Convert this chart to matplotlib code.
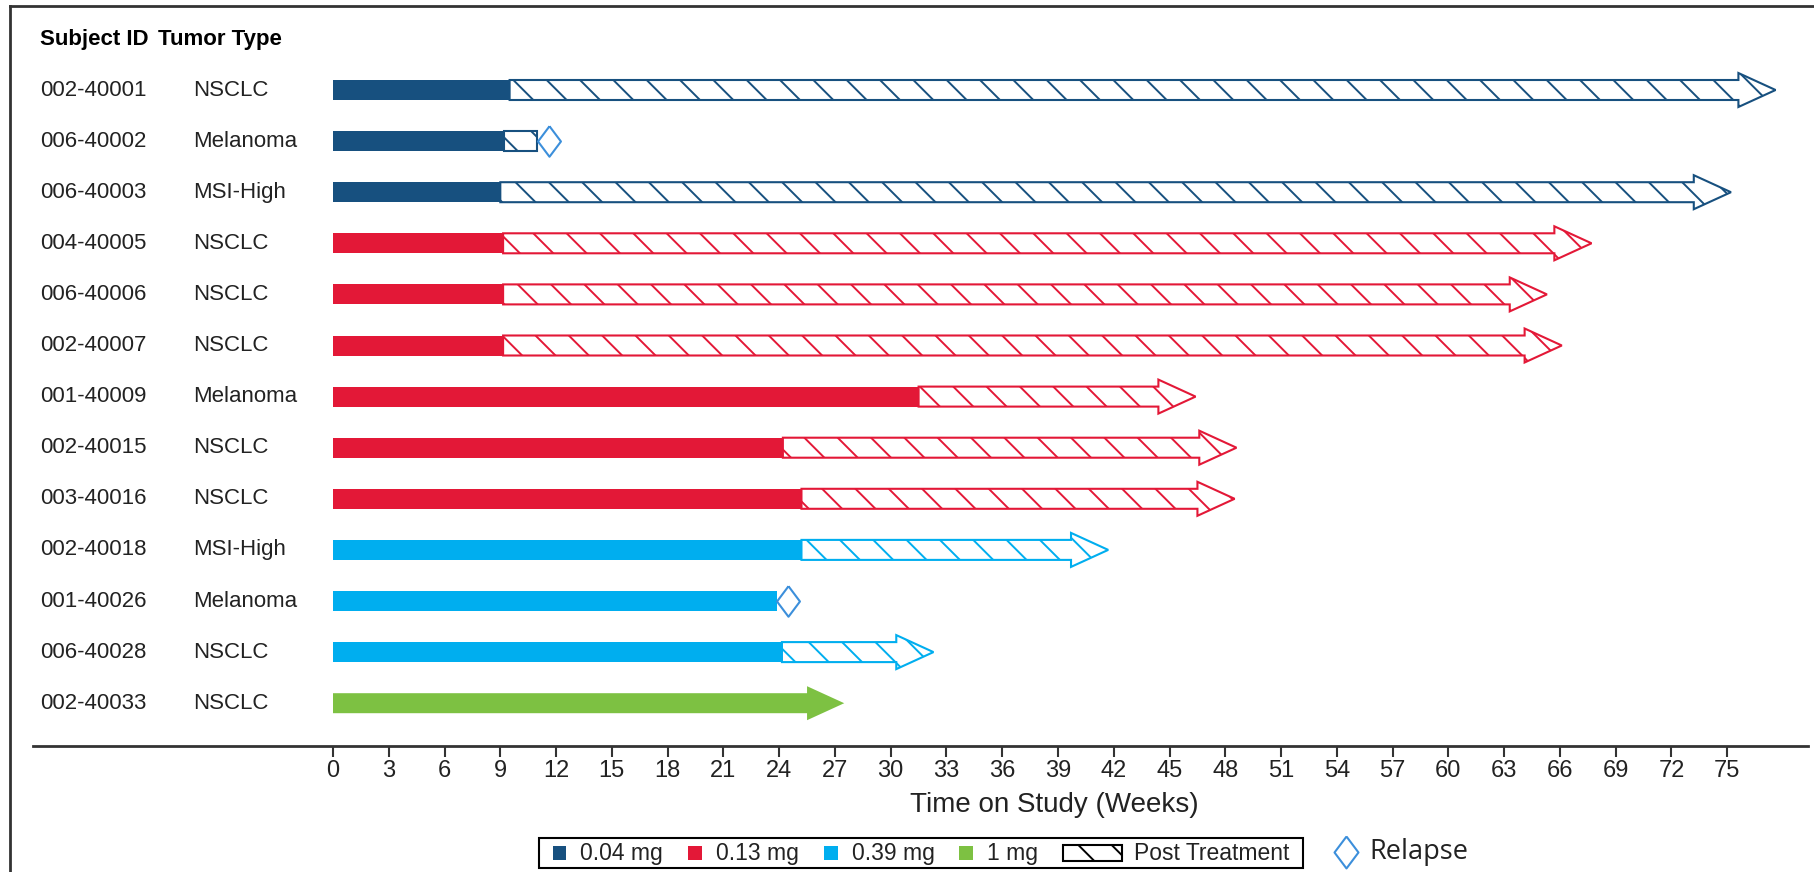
import numpy as np
import matplotlib.pyplot as plt
import matplotlib.transforms as mtransforms
from matplotlib.patches import FancyArrow, Rectangle
from matplotlib.lines import Line2D
from matplotlib.offsetbox import AnchoredOffsetbox, DrawingArea, HPacker, TextArea

plt.rcParams['font.family'] = ['Liberation Sans', 'DejaVu Sans']
plt.rcParams['hatch.linewidth'] = 1.4

# data (weeks)
subject_ids = ['002-40001', '006-40002', '006-40003', '004-40005', '006-40006',
               '002-40007', '001-40009', '002-40015', '003-40016', '002-40018',
               '001-40026', '006-40028', '002-40033']
tumor_types = ['NSCLC', 'Melanoma', 'MSI-High', 'NSCLC', 'NSCLC', 'NSCLC',
               'Melanoma', 'NSCLC', 'NSCLC', 'MSI-High', 'Melanoma', 'NSCLC', 'NSCLC']
dose = ['0.04 mg', '0.04 mg', '0.04 mg', '0.13 mg', '0.13 mg', '0.13 mg',
        '0.13 mg', '0.13 mg', '0.13 mg', '0.39 mg', '0.39 mg', '0.39 mg', '1 mg']
treat_end = [9.5, 9.2, 9.0, 9.15, 9.15, 9.15, 31.5, 24.2, 25.2, 25.2, 23.9, 24.15, 27.5]
post_end = [77.6, 11.0, 75.2, 67.7, 65.3, 66.1, 46.4, 48.6, 48.5, 41.7, None, 32.3, None]
ongoing = [True, False, True, True, True, True, True, True, True, True, False, True, True]
relapse = [None, 11.6, None, None, None, None, None, None, None, None, 24.5, None, None]

dose_labels = ['0.04 mg', '0.13 mg', '0.39 mg', '1 mg']
dose_colors = {'0.04 mg': '#17507F', '0.13 mg': '#E31837',
               '0.39 mg': '#00AEEF', '1 mg': '#7DC142'}
relapse_color = '#3C8FDB'
xticks = np.arange(0, 76, 3)

W, H = 1814, 872
fig = plt.figure(figsize=(W / 100, H / 100), dpi=100)

# layout in pixels
ax_left, ax_right, ax_top, ax_bottom = 33, 1808, 10, 746
x0_px, px_per_week = 333, 18.59
row0_px, row_px = 90, 51.1
ax = fig.add_axes([ax_left / W, 1 - ax_bottom / H, (ax_right - ax_left) / W, (ax_bottom - ax_top) / H])
ax.set_xlim((ax_left - x0_px) / px_per_week, (ax_right - x0_px) / px_per_week)
ax.set_ylim((ax_bottom - row0_px) / row_px, (ax_top - row0_px) / row_px)

bar_h = 20 / row_px
head_w = 34 / row_px
head_l = 2.0
diamond = [(0, 1), (0.75, 0), (0, -1), (-0.75, 0), (0, 1)]

for i in range(len(subject_ids)):
    c = dose_colors[dose[i]]
    if post_end[i] is None and ongoing[i]:
        # solid arrow, still on treatment
        ax.add_patch(FancyArrow(0, i, treat_end[i], 0, width=bar_h, head_width=head_w,
                                head_length=head_l, length_includes_head=True,
                                facecolor=c, edgecolor='none', zorder=2))
    else:
        ax.barh(i, treat_end[i], left=0, height=bar_h, color=c, zorder=2)
    if post_end[i] is not None:
        if ongoing[i]:
            ax.add_patch(FancyArrow(treat_end[i], i, post_end[i] - treat_end[i], 0, width=bar_h,
                                    head_width=head_w, head_length=head_l, length_includes_head=True,
                                    facecolor='white', edgecolor=c, hatch='\\', lw=1.5, zorder=2))
        else:
            ax.add_patch(Rectangle((treat_end[i], i - bar_h / 2), post_end[i] - treat_end[i], bar_h,
                                   facecolor='white', edgecolor=c, hatch='\\', lw=1.5, zorder=2))
    if relapse[i] is not None:
        ax.plot(relapse[i], i, marker=diamond, markersize=22, mfc='white',
                mec=relapse_color, mew=1.5, zorder=3)

# row labels
trans = mtransforms.blended_transform_factory(fig.transFigure, ax.transData)
for i in range(len(subject_ids)):
    ax.text(40 / W, i, subject_ids[i], transform=trans, fontsize=16, va='center', color='#222222')
    ax.text(193 / W, i, tumor_types[i], transform=trans, fontsize=16, va='center', color='#222222')
hdr_y = (39 - row0_px) / row_px
ax.text(40 / W, hdr_y, 'Subject ID', transform=trans, fontsize=16, fontweight='bold', va='center')
ax.text(158 / W, hdr_y, 'Tumor Type', transform=trans, fontsize=16, fontweight='bold', va='center')

# axis formatting
for s in ['top', 'left', 'right']:
    ax.spines[s].set_visible(False)
ax.spines['bottom'].set_linewidth(2)
ax.spines['bottom'].set_color('#333333')
ax.set_yticks([])
ax.set_xticks(xticks)
ax.tick_params(axis='x', labelsize=17, length=8, width=1.5, color='#333333', labelcolor='#222222', pad=2)
ax.set_xlabel('Time on Study (Weeks)', fontsize=20, color='#222222')
ax.xaxis.set_label_coords((1054 - ax_left) / (ax_right - ax_left), -(792 - ax_bottom) / (ax_bottom - ax_top))
ax.xaxis.label.set_va('top')

# outer frame (left and top edges)
fig.add_artist(Line2D([10 / W, 10 / W], [0, 1 - 6 / H], transform=fig.transFigure, color='#333333', lw=2))
fig.add_artist(Line2D([10 / W, 1], [1 - 6 / H, 1 - 6 / H], transform=fig.transFigure, color='#333333', lw=2))


# legend built from offset boxes
def swatch(w, h, **kw):
    da = DrawingArea(w, h, 0, 0)
    da.add_artist(Rectangle((0, 0), w, h, **kw))
    return da


items = []
for lab in dose_labels:
    items.append(HPacker(children=[swatch(10, 10, facecolor=dose_colors[lab], edgecolor='none'),
                                   TextArea(lab, textprops=dict(fontsize=16.5, color='#222222'))],
                         sep=10, align='center', pad=0))
items.append(HPacker(children=[swatch(42, 11.5, facecolor='white', edgecolor='black', hatch='\\', lw=1.5),
                               TextArea('Post Treatment', textprops=dict(fontsize=16.5, color='#222222'))],
                     sep=9, align='center', pad=0))
row = HPacker(children=items, sep=18, align='center', pad=0)
row = HPacker(children=[DrawingArea(7, 1), row, DrawingArea(7, 1)], sep=0, align='center', pad=0)
box = AnchoredOffsetbox(loc='center', child=row, pad=0.25, borderpad=0, frameon=True,
                        bbox_to_anchor=(921 / W, 1 - 853 / H), bbox_transform=fig.transFigure)
box.patch.set_edgecolor('black')
box.patch.set_linewidth(1.5)
box.patch.set_boxstyle('square', pad=0)
fig.add_artist(box)

da = DrawingArea(20, 24, 0, 0)
da.add_artist(Line2D([10], [12], marker=diamond, markersize=23, mfc='white', mec=relapse_color, mew=1.5))
rel = HPacker(children=[da, TextArea('Relapse', textprops=dict(fontsize=19.5, family='Open Sans', color='#222222'))],
              sep=7, align='center', pad=0)
rel_box = AnchoredOffsetbox(loc='center left', child=rel, pad=0, borderpad=0, frameon=False,
                            bbox_to_anchor=(1332 / W, 1 - 852 / H), bbox_transform=fig.transFigure)
fig.add_artist(rel_box)

fig.savefig('out.png', dpi=100)
